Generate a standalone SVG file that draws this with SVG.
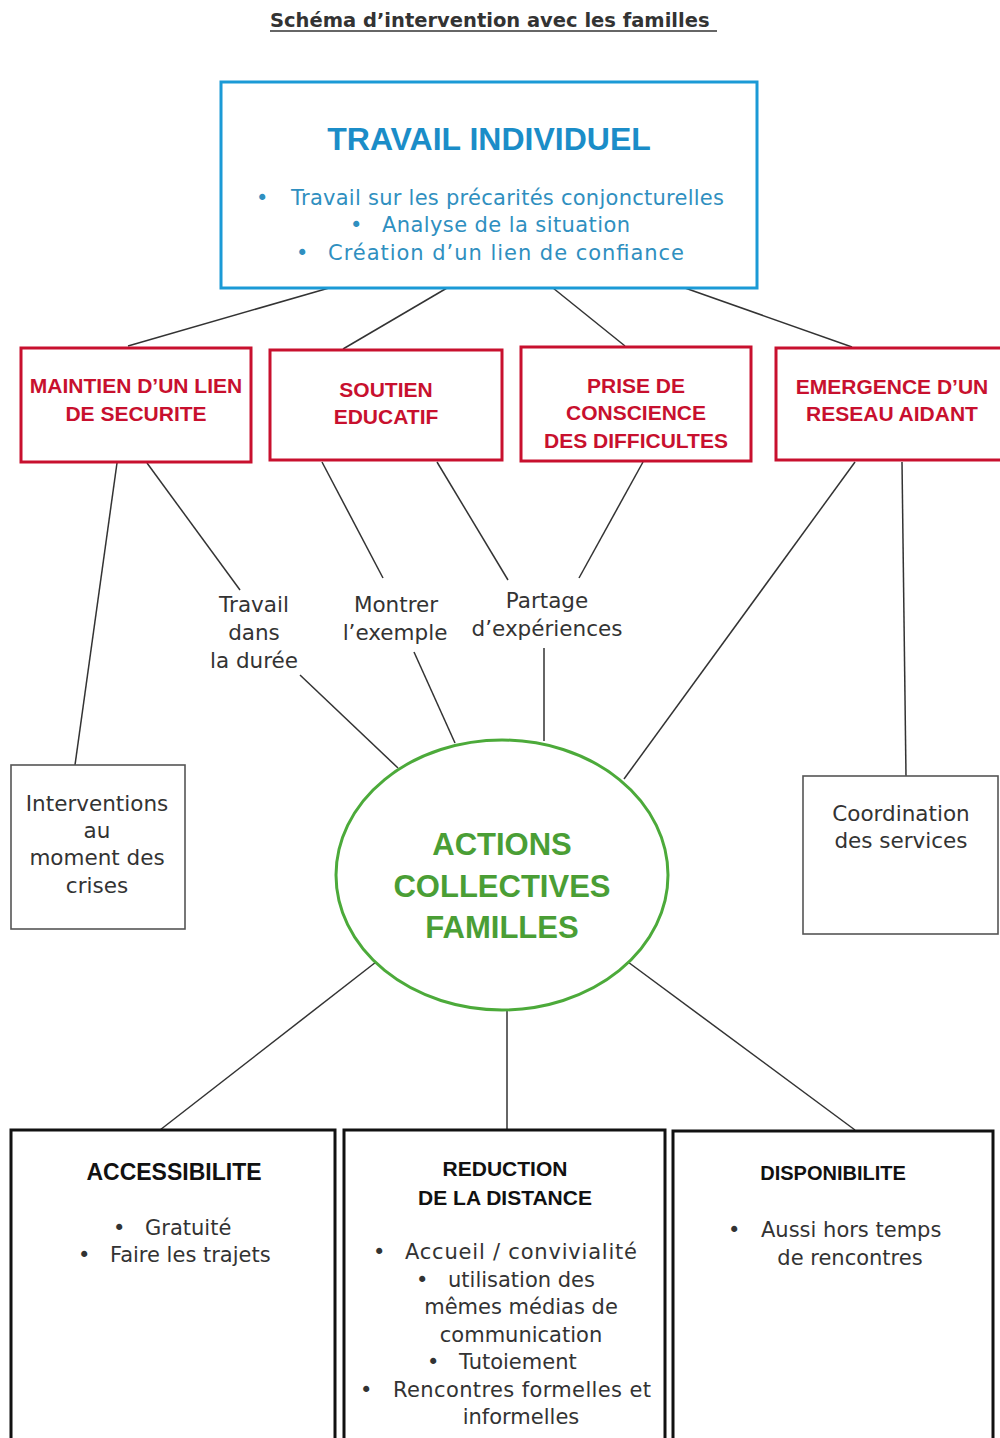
<svg xmlns="http://www.w3.org/2000/svg" width="1000" height="1438" viewBox="0 0 1000 1438">
  <style>
    text { font-family: "DejaVu Sans", "Liberation Sans", Arial, sans-serif; }
    .title { font-size: 19.5px; font-weight: bold; fill: #333; }
    .blue-h { font-family: "Liberation Sans", Arial, sans-serif; font-size: 32px; font-weight: bold; fill: #1b8dc8; text-anchor: middle; }
    .blue { font-size: 21px; fill: #2f8fc0; }
    .red { font-family: "Liberation Sans", Arial, sans-serif; font-size: 21px; font-weight: bold; fill: #c8102e; text-anchor: middle; }
    .lbl { font-size: 21.5px; fill: #333; text-anchor: middle; }
    .green { font-family: "Liberation Sans", Arial, sans-serif; font-size: 31px; font-weight: bold; fill: #4a9e35; text-anchor: middle; }
    .bh { font-family: "Liberation Sans", Arial, sans-serif; font-size: 22px; font-weight: bold; fill: #111; text-anchor: middle; }
    .body { font-size: 21px; fill: #333; }
    .mid { text-anchor: middle; }
    .box-blue { fill: #fff; stroke: #1b9ad6; stroke-width: 3; }
    .box-red { fill: #fff; stroke: #c8102e; stroke-width: 3; }
    .box-gray { fill: #fff; stroke: #555; stroke-width: 1.6; }
    .box-black { fill: #fff; stroke: #111; stroke-width: 3; }
    .conn line { stroke: #333; stroke-width: 1.5; }
  </style>

  <rect width="1000" height="1438" fill="#fff"/>

  <!-- heading -->
  <g id="heading">
    <text class="title" x="270" y="27">Schéma d’intervention avec les familles</text>
    <line x1="270" y1="31" x2="717" y2="31" stroke="#333" stroke-width="1.6"/>
  </g>

  <!-- connectors -->
  <g class="conn" id="connectors">
    <line x1="329" y1="288" x2="128" y2="346"/>
    <line x1="447" y1="288" x2="343" y2="349"/>
    <line x1="553" y1="288" x2="625" y2="346"/>
    <line x1="685" y1="288" x2="852" y2="347"/>

    <line x1="117" y1="463" x2="75" y2="765"/>
    <line x1="147" y1="463" x2="240" y2="590"/>
    <line x1="322" y1="462" x2="383" y2="578"/>
    <line x1="437" y1="462" x2="508" y2="580"/>
    <line x1="643" y1="462" x2="579" y2="578"/>
    <line x1="855" y1="462" x2="624" y2="779"/>
    <line x1="902" y1="462" x2="906" y2="776"/>

    <line x1="300" y1="675" x2="398" y2="768"/>
    <line x1="414" y1="652" x2="455" y2="743"/>
    <line x1="544" y1="648" x2="544" y2="741"/>

    <line x1="376" y1="962" x2="160" y2="1130"/>
    <line x1="507" y1="1007" x2="507" y2="1130"/>
    <line x1="628" y1="962" x2="855" y2="1130"/>
  </g>

  <!-- top node -->
  <g id="travail-individuel">
    <rect class="box-blue" x="221" y="82" width="536" height="206"/>
    <text class="blue-h" x="489" y="150">TRAVAIL INDIVIDUEL</text>
    <text class="blue" x="256" y="205">•</text>
    <text class="blue" x="291" y="205" textLength="433">Travail sur les précarités conjoncturelles</text>
    <text class="blue" x="350" y="232">•</text>
    <text class="blue" x="382" y="232" textLength="248">Analyse de la situation</text>
    <text class="blue" x="296" y="260">•</text>
    <text class="blue" x="328" y="260" textLength="356">Création d’un lien de confiance</text>
  </g>

  <!-- red nodes -->
  <g id="maintien">
    <rect class="box-red" x="21" y="348" width="230" height="114"/>
    <text class="red" x="136" y="393">MAINTIEN D’UN LIEN</text>
    <text class="red" x="136" y="421">DE SECURITE</text>
  </g>
  <g id="soutien">
    <rect class="box-red" x="270" y="350" width="232" height="110"/>
    <text class="red" x="386" y="397">SOUTIEN</text>
    <text class="red" x="386" y="424">EDUCATIF</text>
  </g>
  <g id="prise-conscience">
    <rect class="box-red" x="521" y="347" width="230" height="114"/>
    <text class="red" x="636" y="393">PRISE DE</text>
    <text class="red" x="636" y="420">CONSCIENCE</text>
    <text class="red" x="636" y="448">DES DIFFICULTES</text>
  </g>
  <g id="emergence">
    <rect class="box-red" x="776" y="348" width="230" height="112"/>
    <text class="red" x="892" y="394">EMERGENCE D’UN</text>
    <text class="red" x="892" y="421">RESEAU AIDANT</text>
  </g>

  <!-- intermediate labels -->
  <g id="travail-duree">
    <text class="lbl" x="254" y="612">Travail</text>
    <text class="lbl" x="254" y="640">dans</text>
    <text class="lbl" x="254" y="668">la durée</text>
  </g>
  <g id="montrer-exemple">
    <text class="lbl" x="396" y="612">Montrer</text>
    <text class="lbl" x="395" y="640">l’exemple</text>
  </g>
  <g id="partage">
    <text class="lbl" x="547" y="608">Partage</text>
    <text class="lbl" x="547" y="636">d’expériences</text>
  </g>

  <!-- side boxes -->
  <g id="interventions">
    <rect class="box-gray" x="11" y="765" width="174" height="164"/>
    <text class="lbl" x="97" y="811">Interventions</text>
    <text class="lbl" x="97" y="838">au</text>
    <text class="lbl" x="97" y="865">moment des</text>
    <text class="lbl" x="97" y="893">crises</text>
  </g>
  <g id="coordination">
    <rect class="box-gray" x="803" y="776" width="195" height="158"/>
    <text class="lbl" x="901" y="821">Coordination</text>
    <text class="lbl" x="901" y="848">des services</text>
  </g>

  <!-- central ellipse -->
  <g id="actions-collectives">
    <ellipse cx="502" cy="875" rx="166" ry="135" fill="#fff" stroke="#4caa3a" stroke-width="3"/>
    <text class="green" x="502" y="855">ACTIONS</text>
    <text class="green" x="502" y="897">COLLECTIVES</text>
    <text class="green" x="502" y="938">FAMILLES</text>
  </g>

  <!-- bottom nodes -->
  <g id="accessibilite">
    <rect class="box-black" x="11" y="1130" width="324" height="320"/>
    <text class="bh" x="174" y="1180" style="font-size:23px">ACCESSIBILITE</text>
    <text class="body" x="113" y="1235">•</text>
    <text class="body" x="145" y="1235">Gratuité</text>
    <text class="body" x="78" y="1262">•</text>
    <text class="body" x="110" y="1262">Faire les trajets</text>
  </g>
  <g id="reduction-distance">
    <rect class="box-black" x="344" y="1130" width="321" height="320"/>
    <text class="bh" x="505" y="1176" style="font-size:21px">REDUCTION</text>
    <text class="bh" x="505" y="1205" style="font-size:21px">DE LA DISTANCE</text>
    <text class="body" x="373" y="1259">•</text>
    <text class="body" x="405" y="1259" textLength="232">Accueil / convivialité</text>
    <text class="body" x="416" y="1287">•</text>
    <text class="body" x="448" y="1287">utilisation des</text>
    <text class="body mid" x="521" y="1314">mêmes médias de</text>
    <text class="body mid" x="521" y="1342">communication</text>
    <text class="body" x="427" y="1369">•</text>
    <text class="body" x="459" y="1369">Tutoiement</text>
    <text class="body" x="360" y="1397">•</text>
    <text class="body" x="393" y="1397" textLength="258">Rencontres formelles et</text>
    <text class="body mid" x="521" y="1424">informelles</text>
  </g>
  <g id="disponibilite">
    <rect class="box-black" x="673" y="1131" width="320" height="320"/>
    <text class="bh" x="833" y="1180" style="font-size:20px">DISPONIBILITE</text>
    <text class="body" x="728" y="1237">•</text>
    <text class="body" x="761" y="1237">Aussi hors temps</text>
    <text class="body mid" x="850" y="1265">de rencontres</text>
  </g>
</svg>
